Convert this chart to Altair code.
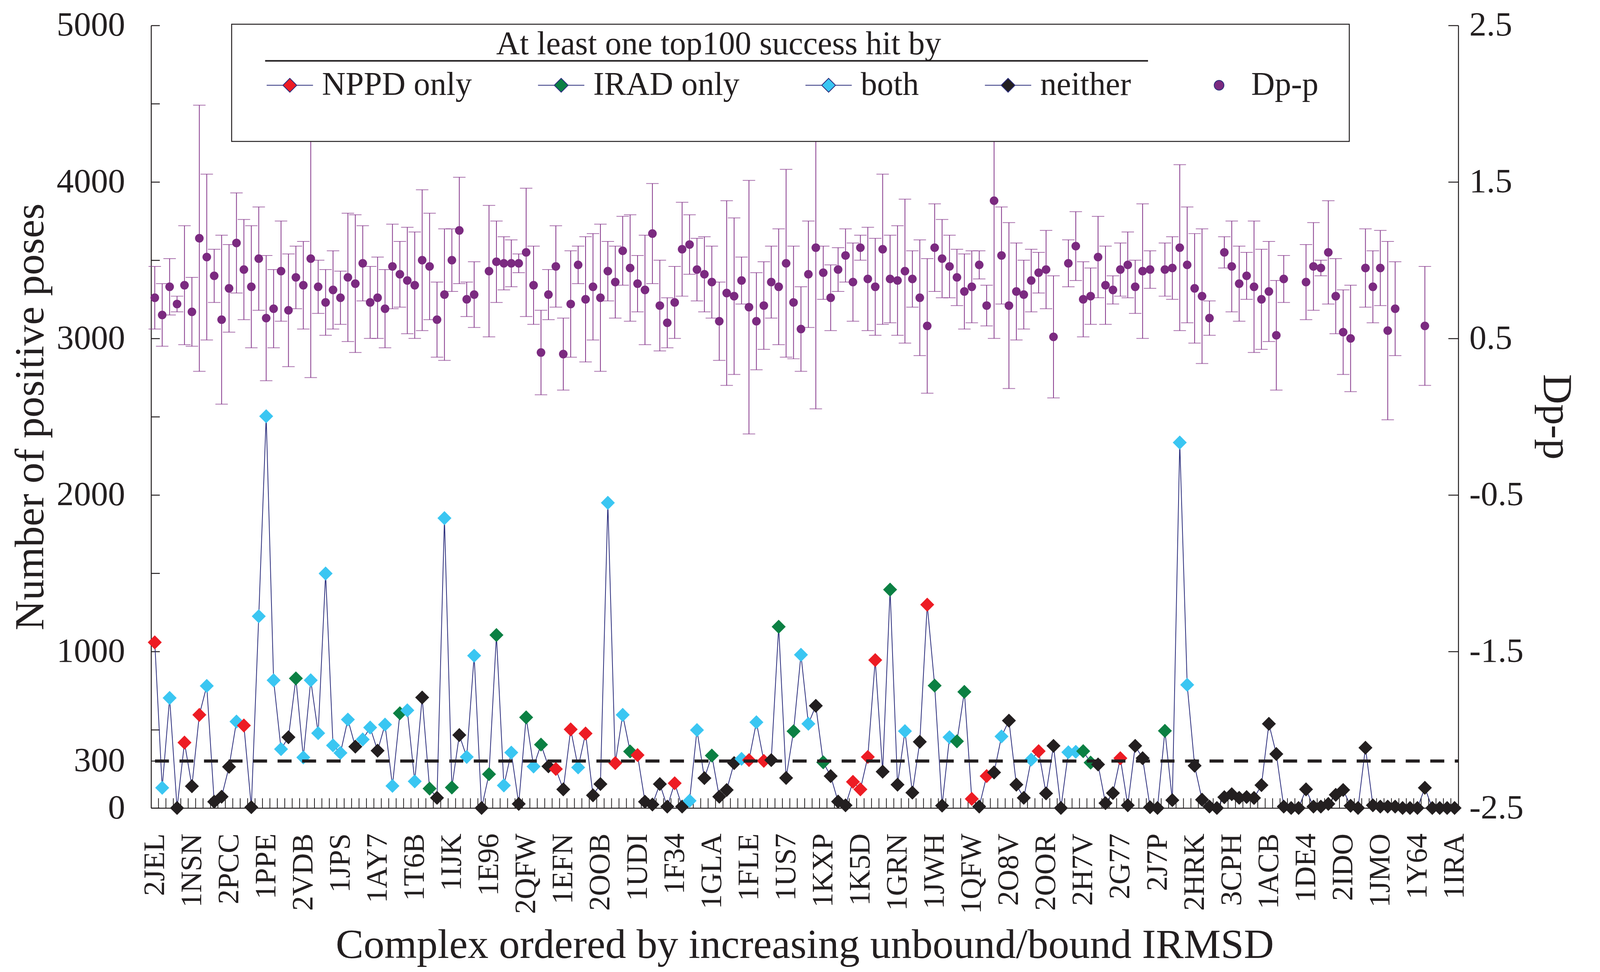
import json
import pandas as pd
import altair as alt

# complexes named on the x axis (every fifth one)
labels = ["2JEL", "1NSN", "2PCC", "1PPE", "2VDB", "1JPS", "1AY7", "1T6B", "1IJK", "1E96",
          "2QFW", "1EFN", "2OOB", "1UDI", "1F34", "1GLA", "1FLE", "1US7", "1KXP", "1K5D",
          "1GRN", "1JWH", "1QFW", "2O8V", "2OOR", "2H7V", "2G77", "2J7P", "2HRK", "3CPH",
          "1ACB", "1DE4", "2IDO", "1JMO", "1Y64", "1IRA"]

# number of positive poses, one per complex
poses = [1058, 129, 703, 0, 418, 139, 595, 780, 40, 72,
         263, 552, 527, 5, 1225, 2503, 816, 376, 452, 828,
         323, 816, 478, 1498, 400, 352, 565, 392, 438, 514,
         366, 533, 141, 605, 624, 170, 706, 124, 65, 1852,
         131, 466, 326, 973, 0, 216, 1105, 144, 354, 26,
         579, 265, 405, 266, 249, 119, 502, 259, 476, 81,
         153, 1950, 287, 595, 361, 338, 40, 22, 153, 9,
         158, 9, 46, 498, 191, 335, 72, 115, 287, 314,
         306, 548, 301, 306, 1158, 192, 490, 979, 538, 653,
         292, 204, 41, 17, 167, 119, 326, 945, 232, 1395,
         149, 491, 98, 423, 1299, 782, 15, 452, 426, 742,
         58, 9, 204, 227, 457, 558, 149, 65, 309, 363,
         93, 397, 0, 356, 359, 363, 290, 278, 31, 95,
         318, 17, 397, 318, 5, 0, 493, 50, 2335, 787,
         270, 53, 9, 0, 69, 88, 65, 70, 64, 146,
         538, 345, 9, 0, 0, 119, 9, 9, 26, 84,
         115, 14, 0, 385, 17, 9, 9, 9, 0, 0,
         0, 129, 0, 0, 0, 0]

# top100 success hit: N = NPPD only, I = IRAD only, B = both, X = neither
hit = list("NBBXNXNBXX" "XBNXBBBBXI" "BBBBBBBXBB" "XBBIBBXIXB" "IXBBXIIBBX"
           "IBIXNXNBNX" "XBNBINXXXX" "NXBBXIXXXB" "NBNXIXIBBX" "IXXXNNNNXI"
           "XBXXNIXBII" "NXNXBXXXBN" "XXXBBIIXXX" "NXXXXXIXBB" "XXXXXXXXXX"
           "XXXXXXXXXX" "XXXXXXXXXX" "XXXXXX")

# Dp-p mean and spread (None where no value is shown)
dpp = [0.76, 0.65, 0.83, 0.72, 0.84, 0.67, 1.14, 1.02, 0.90, 0.62,
       0.82, 1.11, 0.94, 0.83, 1.01, 0.63, 0.69, 0.93, 0.68, 0.89,
       0.84, 1.01, 0.83, 0.73, 0.81, 0.76, 0.89, 0.85, 0.98, 0.73,
       0.76, 0.69, 0.96, 0.91, 0.87, 0.84, 1.00, 0.96, 0.62, 0.78,
       1.00, 1.19, 0.75, 0.78, None, 0.93, 0.99, 0.98, 0.98, 0.98,
       1.05, 0.84, 0.41, 0.78, 0.96, 0.40, 0.72, 0.97, 0.75, 0.83,
       0.76, 0.93, 0.86, 1.06, 0.95, 0.85, 0.81, 1.17, 0.71, 0.60,
       0.73, 1.07, 1.10, 0.94, 0.91, 0.86, 0.61, 0.79, 0.77, 0.87,
       0.70, 0.61, 0.71, 0.86, 0.83, 0.98, 0.73, 0.56, 0.91, 1.08,
       0.92, 0.76, 0.94, 1.03, 0.86, 1.08, 0.88, 0.83, 1.07, 0.88,
       0.87, 0.93, 0.88, 0.76, 0.58, 1.08, 1.01, 0.96, 0.89, 0.80,
       0.83, 0.97, 0.71, 1.38, 1.03, 0.71, 0.80, 0.78, 0.87, 0.92,
       0.94, 0.51, None, 0.98, 1.09, 0.75, 0.77, 1.02, 0.84, 0.81,
       0.94, 0.97, 0.83, 0.93, 0.94, None, 0.94, 0.95, 1.08, 0.97,
       0.82, 0.77, 0.63, None, 1.05, 0.96, 0.85, 0.90, 0.83, 0.75,
       0.80, 0.52, 0.88, None, None, 0.86, 0.96, 0.95, 1.05, 0.77,
       0.54, 0.50, None, 0.95, 0.83, 0.95, 0.55, 0.69, None, None,
       None, 0.58, None, None, None, None]
dpp_sd = [0.20, 0.20, 0.18, 0.05, 0.38, 0.22, 0.85, 0.53, 0.17, 0.54,
          0.28, 0.32, 0.32, 0.39, 0.33, 0.40, 0.25, 0.32, 0.36, 0.20,
          0.28, 0.76, 0.17, 0.21, 0.25, 0.17, 0.41, 0.44, 0.24, 0.23,
          0.26, 0.25, 0.27, 0.21, 0.34, 0.34, 0.45, 0.34, 0.24, 0.42,
          0.20, 0.34, 0.11, 0.21, None, 0.42, 0.26, 0.17, 0.15, 0.06,
          0.41, 0.25, 0.27, 0.16, 0.26, 0.23, 0.34, 0.12, 0.40, 0.34,
          0.47, 0.19, 0.23, 0.22, 0.34, 0.18, 0.35, 0.32, 0.29, 0.16,
          0.23, 0.30, 0.19, 0.20, 0.24, 0.23, 0.25, 0.59, 0.50, 0.15,
          0.81, 0.31, 0.28, 0.23, 0.37, 0.60, 0.36, 0.27, 0.34, 1.03,
          0.17, 0.21, 0.14, 0.17, 0.25, 0.08, 0.33, 0.31, 0.48, 0.28,
          0.35, 0.46, 0.18, 0.37, 0.43, 0.28, 0.25, 0.20, 0.18, 0.24,
          0.23, 0.09, 0.13, 0.88, 0.31, 0.53, 0.31, 0.22, 0.20, 0.13,
          0.25, 0.39, None, 0.15, 0.22, 0.24, 0.18, 0.26, 0.25, 0.09,
          0.17, 0.21, 0.17, 0.43, 0.12, None, 0.17, 0.20, 0.53, 0.37,
          0.35, 0.43, 0.11, None, 0.10, 0.29, 0.24, 0.15, 0.42, 0.32,
          0.32, 0.35, 0.15, None, None, 0.24, 0.28, 0.05, 0.33, 0.24,
          0.27, 0.34, None, 0.25, 0.23, 0.24, 0.57, 0.30, None, None,
          None, 0.38, None, None, None, None]

hit_colors = {"N": "#ED1C24", "I": "#0B8043", "B": "#3AC6F2", "X": "#231F20"}
navy = "#2B2D7C"
purple = "#7B2A80"
bar_purple = "#84358A"
ink = "#231F20"
font = "Liberation Serif"

W, H = 3358, 2010
n = len(poses)

df = pd.DataFrame({"idx": range(n), "poses": poses, "hit": hit})
df["fill"] = df["hit"].map(hit_colors)

dp = pd.DataFrame({"idx": range(n), "dpp": dpp, "sd": dpp_sd}).dropna()
dp["lo"] = dp["dpp"] - dp["sd"]
dp["hi"] = dp["dpp"] + dp["sd"]

xscale = alt.Scale(domain=[-0.5, n - 0.5], nice=False, zero=False)

x_axis = alt.Axis(values=list(range(0, n, 5)),
                  labelExpr=json.dumps(labels) + "[round(datum.value / 5)]",
                  labelAngle=270, labelFontSize=76, labelPadding=65, labelLimit=0,
                  labelFlush=False, ticks=False,
                  domainColor=ink, domainWidth=2.5, labelColor=ink,
                  title="Complex ordered by increasing unbound/bound IRMSD",
                  titleFontSize=107, titlePadding=100)

left_vals = [0, 300, 500, 1000, 1500, 2000, 2500, 3000, 3500, 4000, 4500, 5000]
y_axis = alt.Axis(values=left_vals, format="d",
                  labelExpr="indexof([0, 300, 1000, 2000, 3000, 4000, 5000], datum.value) >= 0 ? datum.label : ''",
                  tickSize={"expr": "-22"}, tickColor=ink, tickWidth=2.5, labelPadding=89,
                  labelFontSize=88, labelLimit=0, labelOverlap=False,
                  domainColor=ink, domainWidth=2.5, labelColor=ink,
                  title="Number of positive poses", titleFontSize=107, titlePadding=55)

ypos = alt.Y("poses:Q", scale=alt.Scale(domain=[0, 5000], nice=False, zero=False), axis=y_axis)

line = alt.Chart(df).mark_line(color=navy, strokeWidth=2).encode(
    x=alt.X("idx:Q", scale=xscale, axis=x_axis), y=ypos)

diamonds = alt.Chart(df).mark_point(shape="diamond", filled=True, size=1296, opacity=1).encode(
    x="idx:Q", y="poses:Q", color=alt.Color("fill:N", scale=None))

# short inward ticks between neighbouring complexes
bounds = pd.DataFrame({"idx": [i + 0.5 for i in range(n - 1)]})
xticks = alt.Chart(bounds).mark_rule(color=ink, strokeWidth=2).encode(
    x="idx:Q", y=alt.value(H), y2=alt.value(H - 25))

cutoff = alt.Chart(pd.DataFrame({"k": [0]})).mark_rule(
    color=ink, strokeWidth=8, strokeDash=[36, 27], strokeDashOffset=27).encode(y=alt.datum(300))

# legend entries, drawn only through the legend
entries = ["NPPD only", "IRAD only", "both", "neither", "Dp-p"]
entry_colors = [hit_colors["N"], hit_colors["I"], hit_colors["B"], hit_colors["X"], purple]
dia = "M-1,0L-0.3,0M0.3,0L1,0M0,-0.3L0.3,0L0,0.3L-0.3,0Z"
dot = "M-0.21,0A0.21,0.21,0,1,0,0.21,0A0.21,0.21,0,1,0,-0.21,0Z"
leg = alt.Legend(title=None, orient="none", legendX=296, legendY=93, direction="horizontal",
                 columns=5, symbolSize=14161, symbolStrokeColor=navy, symbolStrokeWidth=2,
                 labelFont=font, labelFontSize=84, labelColor=ink, labelOffset=22,
                 columnPadding=165, labelLimit=0, padding=0, zindex=1)
leg_df = pd.DataFrame({"idx": [0] * 5, "poses": [-10000] * 5, "entry": entries})
legend_layer = alt.Chart(leg_df).mark_point(filled=True, clip=True, size=14161).encode(
    x="idx:Q", y="poses:Q",
    color=alt.Color("entry:N", scale=alt.Scale(domain=entries, range=entry_colors), legend=leg),
    shape=alt.Shape("entry:N", scale=alt.Scale(domain=entries, range=[dia, dia, dia, dia, dot]), legend=leg))

left = alt.layer(line, xticks, diamonds, cutoff, legend_layer)

# Dp-p on the right axis
r_axis = alt.Axis(orient="right", values=[-2.5, -1.5, -0.5, 0.5, 1.5, 2.5],
                  labelExpr="datum.value < 0 ? '-' + format(-datum.value, '.1f') : format(datum.value, '.1f')",
                  tickSize={"expr": "-26"}, tickColor=ink, tickWidth=2.5, labelPadding=54,
                  labelFontSize=88, labelLimit=0, labelOverlap=False,
                  domainColor=ink, domainWidth=2.5, labelColor=ink,
                  title="Dp-p", titleFontSize=107, titlePadding=30)
rscale = alt.Scale(domain=[-2.5, 2.5], nice=False, zero=False)

bars = alt.Chart(dp).mark_rule(color=bar_purple, strokeWidth=2).encode(
    x=alt.X("idx:Q", scale=xscale),
    y=alt.Y("lo:Q", scale=rscale, axis=r_axis), y2="hi:Q")
cap_lo = alt.Chart(dp).mark_tick(color=bar_purple, orient="horizontal", size=32, thickness=2).encode(
    x="idx:Q", y=alt.Y("lo:Q", axis=r_axis))
cap_hi = alt.Chart(dp).mark_tick(color=bar_purple, orient="horizontal", size=32, thickness=2).encode(
    x="idx:Q", y=alt.Y("hi:Q", axis=r_axis))
dots = alt.Chart(dp).mark_circle(color=purple, size=490, opacity=1).encode(
    x="idx:Q", y=alt.Y("dpp:Q", axis=r_axis))

right = alt.layer(bars, cap_lo, cap_hi, dots)

# legend frame, heading and its underline
one = pd.DataFrame({"k": [0]})
box = alt.Chart(one).mark_rect(fill="white", stroke=ink, strokeWidth=2.5).encode(
    x=alt.value(207), x2=alt.value(3078), y=alt.value(-3), y2=alt.value(298))
heading = alt.Chart(one).mark_text(font=font, fontSize=84, color=ink, align="center", baseline="middle").encode(
    x=alt.value(1458), y=alt.value(49), text=alt.value("At least one top100 success hit by"))
underline = alt.Chart(one).mark_rule(color=ink, strokeWidth=4).encode(
    x=alt.value(293), x2=alt.value(2561), y=alt.value(91))

chart = alt.layer(left, right, box, heading, underline).resolve_scale(
    y="independent").properties(
    width=W, height=H,
    autosize=alt.AutoSizeParams(type="none"),
    padding={"left": 380, "top": 53, "right": 356, "bottom": 409},
    background="white",
).configure(font=font).configure_view(stroke=None).configure_axis(
    grid=False, labelFont=font, titleFont=font, titleFontWeight="normal", titleColor=ink)

chart.save("out.html", embed_options={"renderer": "svg", "actions": False})
